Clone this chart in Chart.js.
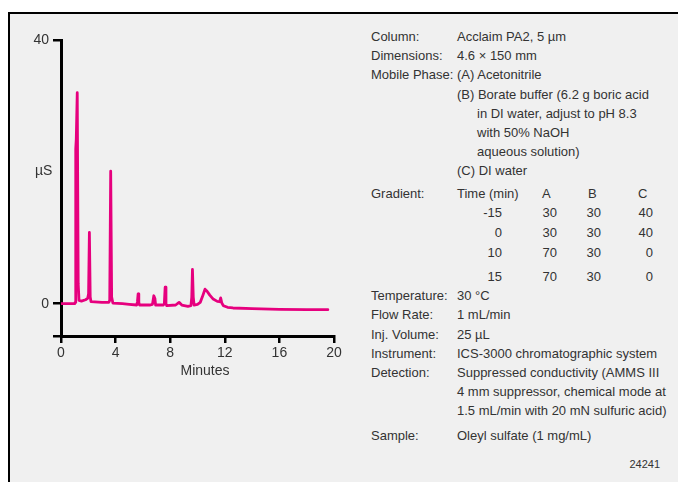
<!DOCTYPE html>
<html>
<head>
<meta charset="utf-8">
<script src="https://cdn.jsdelivr.net/npm/chart.js@4.4.0/dist/chart.umd.min.js"></script>
<style>
  html, body { margin: 0; padding: 0; background: #fff; }
  body { width: 678px; height: 482px; position: relative; overflow: hidden;
    font-family: "Liberation Sans", Arial, sans-serif; color: #333; }
  #panel { position: absolute; left: 8px; top: 12px; right: 0; bottom: 0; background: #f0f0f0;
    border-top: 2px solid #000; border-left: 2.5px solid #000; }
  #wrap { position: absolute; left: 0; top: 0; width: 360px; height: 400px; }
  .t { position: absolute; font-size: 13px; line-height: 16px; white-space: nowrap; }
  .lab { left: 371px; }
  .val { left: 457px; }
  .ind { left: 477px; }
</style>
</head>
<body>
<div id="panel"></div>
<div id="wrap"><canvas id="chart-chrom" width="360" height="400"></canvas></div>

<div class="t" style="left:35px;top:162px;font-size:14px;">µS</div>
<div class="t" style="left:155px;width:100px;text-align:center;top:362px;font-size:14px;">Minutes</div>

<div class="t lab" style="top:29px;">Column:</div>
<div class="t val" style="top:29px;">Acclaim PA2, 5 µm</div>
<div class="t lab" style="top:48px;">Dimensions:</div>
<div class="t val" style="top:48px;">4.6 × 150 mm</div>
<div class="t lab" style="top:67px;">Mobile Phase:</div>
<div class="t val" style="top:67px;">(A) Acetonitrile</div>
<div class="t val" style="top:87px;">(B) Borate buffer (6.2 g boric acid</div>
<div class="t ind" style="top:106px;">in DI water, adjust to pH 8.3</div>
<div class="t ind" style="top:125px;">with 50% NaOH</div>
<div class="t ind" style="top:144px;">aqueous solution)</div>
<div class="t val" style="top:163px;">(C) DI water</div>

<div class="t lab" style="top:186px;">Gradient:</div>
<div class="t val" style="top:186px;">Time (min)</div>
<div class="t" style="left:542px;top:186px;">A</div>
<div class="t" style="left:588px;top:186px;">B</div>
<div class="t" style="left:638px;top:186px;">C</div>

<div class="t" style="right:176px;top:205px;">-15</div>
<div class="t" style="right:121px;top:205px;">30</div>
<div class="t" style="right:77px;top:205px;">30</div>
<div class="t" style="right:25px;top:205px;">40</div>
<div class="t" style="right:176px;top:225px;">0</div>
<div class="t" style="right:121px;top:225px;">30</div>
<div class="t" style="right:77px;top:225px;">30</div>
<div class="t" style="right:25px;top:225px;">40</div>
<div class="t" style="right:176px;top:245px;">10</div>
<div class="t" style="right:121px;top:245px;">70</div>
<div class="t" style="right:77px;top:245px;">30</div>
<div class="t" style="right:25px;top:245px;">0</div>
<div class="t" style="right:176px;top:269px;">15</div>
<div class="t" style="right:121px;top:269px;">70</div>
<div class="t" style="right:77px;top:269px;">30</div>
<div class="t" style="right:25px;top:269px;">0</div>

<div class="t lab" style="top:288px;">Temperature:</div>
<div class="t val" style="top:288px;">30 °C</div>
<div class="t lab" style="top:307px;">Flow Rate:</div>
<div class="t val" style="top:307px;">1 mL/min</div>
<div class="t lab" style="top:327px;">Inj. Volume:</div>
<div class="t val" style="top:327px;">25 µL</div>
<div class="t lab" style="top:346px;">Instrument:</div>
<div class="t val" style="top:346px;">ICS-3000 chromatographic system</div>
<div class="t lab" style="top:365px;">Detection:</div>
<div class="t val" style="top:365px;">Suppressed conductivity (AMMS III</div>
<div class="t val" style="top:384px;">4 mm suppressor, chemical mode at</div>
<div class="t val" style="top:403px;">1.5 mL/min with 20 mN sulfuric acid)</div>
<div class="t lab" style="top:428px;">Sample:</div>
<div class="t val" style="top:428px;">Oleyl sulfate (1 mg/mL)</div>
<div class="t" style="right:18px;top:456px;font-size:11px;">24241</div>

<script>
const fontFamily = '"Liberation Sans", Arial, sans-serif';
const traceColor = "#e6007e";
const textColor = "#333";

// chromatogram: minutes / µS
const retentionTime = [0, 1.0, 1.04, 1.08, 1.12, 1.19, 1.26, 1.32, 1.5, 1.8, 1.95, 2.02, 2.08, 2.14, 2.2,
	3.0, 3.5, 3.57, 3.64, 3.71, 3.8, 4.5, 5.0, 5.55, 5.6, 5.65, 5.7, 5.75, 6.5, 6.7, 6.8, 6.88, 6.93,
	7.5, 7.57, 7.63, 7.69, 7.75, 8.4, 8.65, 8.85, 9.3, 9.52, 9.58, 9.63, 9.69, 9.75, 10.0, 10.2, 10.35,
	10.55, 10.7, 10.9, 11.15, 11.45, 11.62, 11.7, 11.78, 11.9, 12.2, 12.6, 14, 16, 18, 19.55];
const conductivity = [0, 0, 0.2, 23.5, 25, 32.0, 3, 0.5, 0.4, 0.6, 0.8, 1.5, 10.8, 1, 0.3,
	0.2, 0.2, 0.5, 20.1, 1, 0.1, 0, -0.1, -0.2, 0.3, 1.5, 0.2, -0.2, -0.2, -0.1, 1.2, 0.8, -0.2,
	-0.2, 0, 2.5, 0, -0.3, -0.2, 0.2, -0.2, -0.4, -0.3, 1, 5.2, 1, -0.2, -0.1, 0.2, 1.0,
	2.2, 1.9, 1.3, 0.7, 0.35, 0.3, 0.87, 0.1, -0.3, -0.55, -0.65, -0.75, -0.85, -0.9, -0.9];

const xTickValues = [0, 4, 8, 12, 16, 20];
const yTickValues = [0, 40];
const yMin = -4.9;
const yMax = 40;

const chromData = retentionTime.map((t, i) => ({ x: t, y: conductivity[i] }));

const ctxChrom = document.getElementById("chart-chrom").getContext("2d");

var chartChrom = new Chart(ctxChrom, {
	type: "line",
	data: {
		datasets: [
			{
				data: chromData,
				borderColor: traceColor,
				borderWidth: 2.8,
				pointRadius: 0,
				tension: 0,
				borderJoinStyle: "round",
				borderCapStyle: "round",
			},
		],
	},
	options: {
		responsive: false,
		maintainAspectRatio: false,
		animation: false,
		layout: {
			padding: { left: 0, right: 26, top: 40, bottom: 0 },
		},
		plugins: {
			legend: { display: false },
			tooltip: { enabled: false },
		},
		scales: {
			x: {
				type: "linear",
				min: 0,
				max: 20,
				afterBuildTicks: function (scale) {
					scale.ticks = xTickValues.map((v) => ({ value: v }));
				},
				afterFit: function (scale) {
					scale.height = 64;
				},
				grid: { drawOnChartArea: false, drawTicks: true, tickLength: 7, color: "#000", lineWidth: 2.5 },
				border: { display: true, color: "#000", width: 3 },
				ticks: { color: textColor, font: { family: fontFamily, size: 14 }, padding: 2, maxRotation: 0, autoSkip: false },
			},
			y: {
				type: "linear",
				min: yMin,
				max: yMax,
				afterBuildTicks: function (scale) {
					// extra tick at the bottom gives the short stub left of the axis corner
					scale.ticks = [yMin].concat(yTickValues).map((v) => ({ value: v }));
				},
				afterFit: function (scale) {
					scale.width = 61;
				},
				grid: { drawOnChartArea: false, drawTicks: true, tickLength: 8, color: "#000", lineWidth: 2.5 },
				border: { display: true, color: "#000", width: 3 },
				ticks: {
					color: textColor,
					font: { family: fontFamily, size: 14 },
					padding: 4,
					callback: function (v) {
						return v === yMin ? "" : v;
					},
				},
			},
		},
	},
});
</script>
</body>
</html>
